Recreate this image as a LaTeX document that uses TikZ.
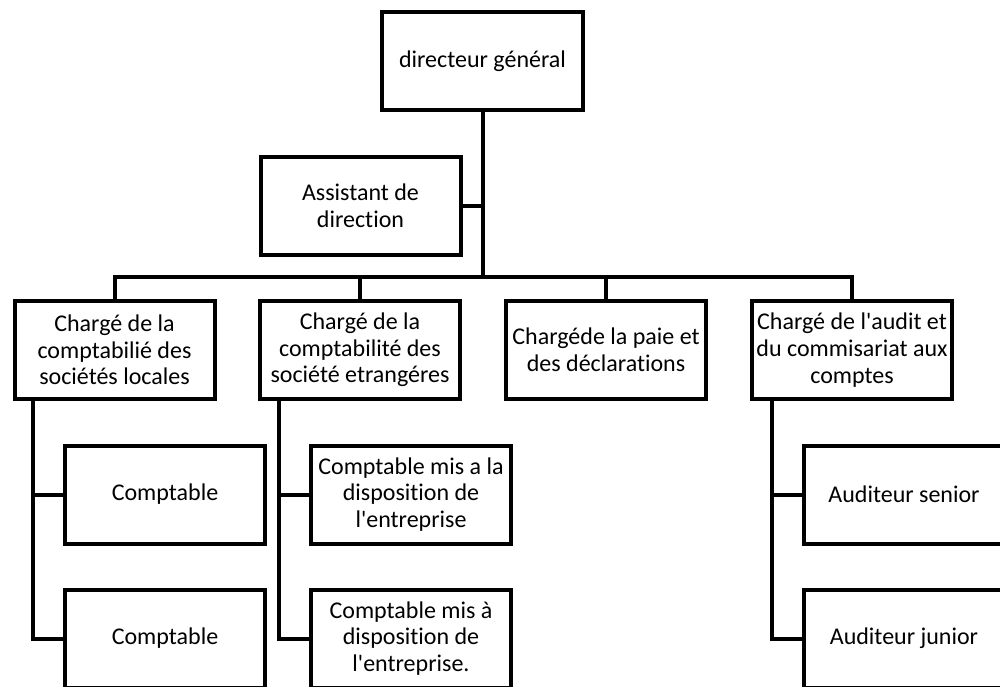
\documentclass[tikz,border=0pt]{standalone}
\usepackage{fontspec}
\setmainfont[Ligatures={NoCommon,TeXOff}]{Carlito}
\newcommand{\apos}{'}
\begin{document}
\begin{tikzpicture}[x=1pt,y=-1pt,
  box/.style={draw=black, line width=4pt, fill=white, minimum width=200pt, minimum height=98pt,
    inner sep=0pt, align=center, font=\fontsize{24}{26.7}\selectfont},
  link/.style={draw=black, line width=4pt}]
\clip (0,0) rectangle (1000,686);
\fill[white] (0,0) rectangle (1000,686);
\node[box, minimum width=201pt] (dg) at (482.5,61) {directeur général};
\node[box] (as) at (360.5,206) {Assistant de\\direction};
\node[box] (l1) at (114.5,350) {Chargé de la\\comptabilié des\\sociétés locales};
\node[box] (l2) at (360,350) {Chargé de la\\comptabilité des\\société etrangéres};
\node[box] (l3) at (606,350) {Chargéde la paie et\\des déclarations};
\node[box] (l4) at (852,350) {Chargé de l\apos audit et\\du commisariat aux\\comptes};
\node[box] (c1a) at (165,494.5) {Comptable};
\node[box] (c1b) at (165,638.5) {Comptable};
\node[box] (c2a) at (411,494.5) {Comptable mis a la\\disposition de\\l\apos entreprise};
\node[box] (c2b) at (411,638.5) {Comptable mis à\\disposition de\\l\apos entreprise.};
\node[box] (c4a) at (904,494.5) {Auditeur senior};
\node[box] (c4b) at (904,638.5) {Auditeur junior};
\coordinate (bar) at (0,277);
\draw[link] (dg.south) -- (dg.south |- bar);
\draw[link] (as.east) -- (as.east -| dg.south);
\draw[link] (l1.north) -- (l1.north |- bar) -- (l4.north |- bar) -- (l4.north);
\draw[link] (l2.north) -- (l2.north |- bar);
\draw[link] (l3.north) -- (l3.north |- bar);
\coordinate (v1) at ([xshift=20pt]l1.south west);
\coordinate (v2) at ([xshift=21pt]l2.south west);
\coordinate (v4) at ([xshift=22pt]l4.south west);
\draw[link] (v1) |- (c1b.west);
\draw[link] (c1a.west) -- (c1a.west -| v1);
\draw[link] (v2) |- (c2b.west);
\draw[link] (c2a.west) -- (c2a.west -| v2);
\draw[link] (v4) |- (c4b.west);
\draw[link] (c4a.west) -- (c4a.west -| v4);
\end{tikzpicture}
\end{document}
